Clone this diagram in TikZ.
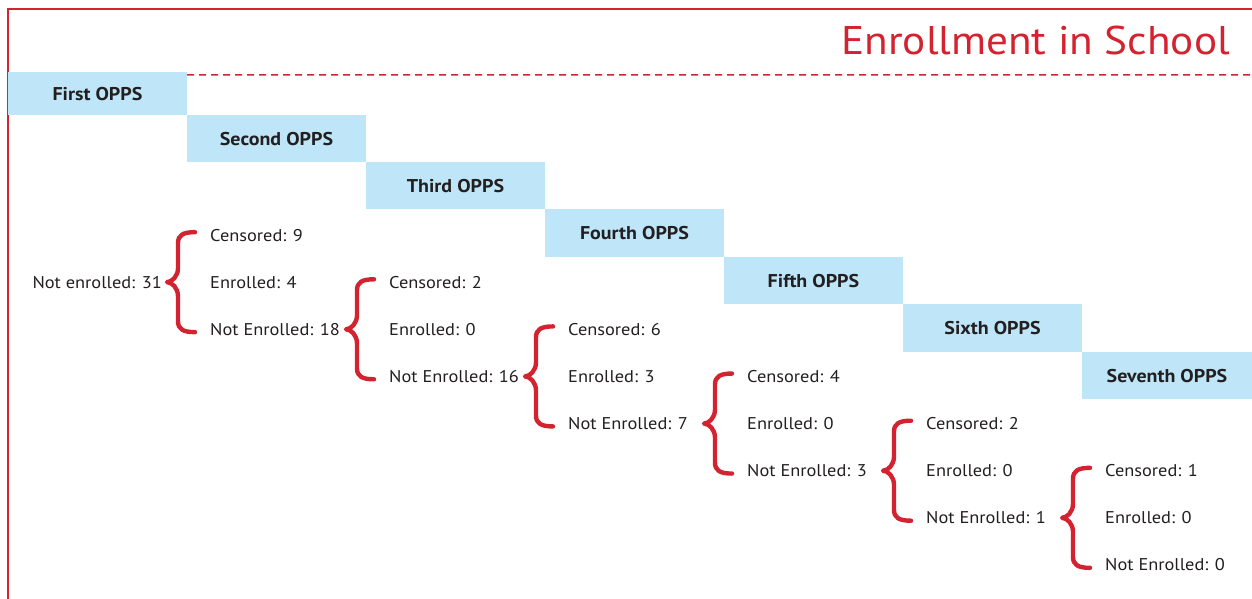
\documentclass[tikz,border=0pt]{standalone}
\usepackage{fontspec}
\setmainfont[FakeStretch=1.08]{PT Sans}
\definecolor{oppsred}{HTML}{D42330}
\definecolor{oppsblue}{HTML}{BEE6F8}
\definecolor{oppstext}{HTML}{231F20}
\begin{document}
\begin{tikzpicture}[x=1pt,y=-1pt,
  stage/.style={fill=oppsblue, draw=none, inner sep=0pt, minimum width=179pt,
    text height=13.2pt, text depth=0pt,
    font=\bfseries\fontsize{18.5}{22}\selectfont, text=oppstext},
  lbl/.style={anchor=base west, inner sep=0pt, font=\fontsize{17}{20}\selectfont, text=oppstext},
  rootlbl/.style={anchor=base east, inner sep=0pt, font=\fontsize{17}{20}\selectfont, text=oppstext},
  bracestroke/.style={draw=oppsred, line width=4.4pt, line cap=round, line join=round},
  framestroke/.style={draw=oppsred, line width=1.6pt}]
\useasboundingbox (0,0) rectangle (1252,599);
% frame
\coordinate (fbl) at (8,599);
\coordinate (ftl) at (8,9);
\coordinate (ftr) at (1252,9);
\draw[framestroke] (fbl) -- (ftl) -- (ftr);
% title
\node[anchor=base east, inner sep=0pt, text=oppsred, font=\fontsize{40}{48}\selectfont] (title) at (1230,55) {Enrollment in School};
% stage boxes
\node[stage, minimum height=43pt] (b1) at (97.5,93.5) {First OPPS};
\node[stage, minimum height=47pt] (b2) at (276.5,138.5) {Second OPPS};
\node[stage, minimum height=47pt] (b3) at (455.5,185.5) {Third OPPS};
\node[stage, minimum height=48pt] (b4) at (634.5,233) {Fourth OPPS};
\node[stage, minimum height=47pt] (b5) at (813.5,280.5) {Fifth OPPS};
\node[stage, minimum height=48pt] (b6) at (992.5,328) {Sixth OPPS};
\node[stage, minimum height=47pt, minimum width=170pt] (b7) at (1167,375.5) {Seventh OPPS};
% dashed line
\coordinate (dashend) at (1252,75);
\draw[oppsred, line width=1.5pt, dash pattern=on 7pt off 5pt] ([yshift=-3pt]b1.north east) -- (dashend);
% root label
\node[rootlbl] (root) at (162,288) {Not enrolled: 31};
% levels
\foreach \L/\c/\e/\n in {1/9/4/18, 2/2/0/16, 3/6/3/7, 4/4/0/3, 5/2/0/1, 6/1/0/0} {
  \pgfmathsetmacro\xx{210+179*(\L-1)}
  \pgfmathsetmacro\ya{235+47.14*(\L-1)}
  \node[lbl] (c\L) at (\xx,\ya+6) {Censored: \c};
  \node[lbl] (e\L) at (\xx,\ya+47.14+6) {Enrolled: \e};
  \node[lbl] (n\L) at (\xx,\ya+94.28+6) {Not Enrolled: \n};
  \coordinate (t\L) at (\xx-43,\ya+47.14);
  \draw[bracestroke] (t\L) ++(28,-50)
    .. controls +(-12,0) and +(0,-8) .. ++(-17,11)
    -- ++(0,25)
    .. controls +(0,8) and +(5,0) .. ++(-11,14)
    .. controls +(5,0) and +(0,-8) .. ++(11,14)
    -- ++(0,25)
    .. controls +(0,8) and +(-12,0) .. ++(17,11);
}
\end{tikzpicture}
\end{document}
